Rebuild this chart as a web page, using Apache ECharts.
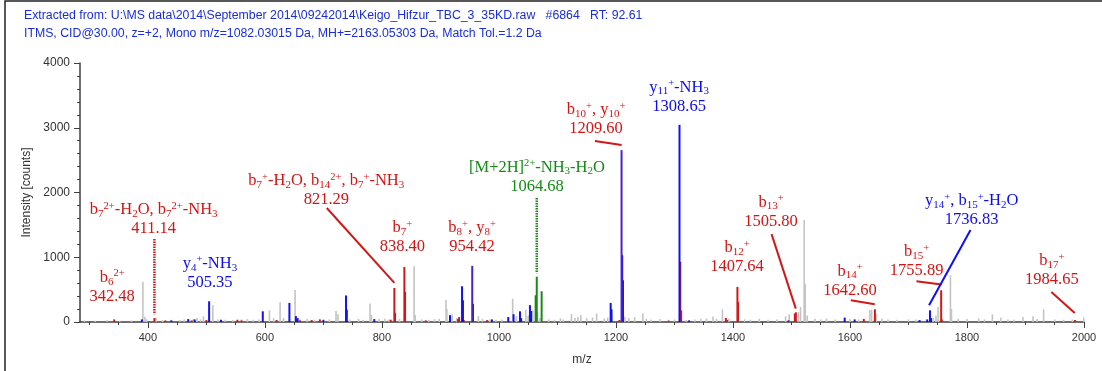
<!DOCTYPE html>
<html>
<head>
<meta charset="utf-8">
<script src="https://cdn.jsdelivr.net/npm/echarts@6/dist/echarts.min.js"></script>
<style>
  html, body { margin: 0; padding: 0; background: #fff; }
  #chart { width: 1102px; height: 371px; }
</style>
</head>
<body>
<div id="chart"></div>
<script>
// peaks: [m/z, intensity]
const grayPeaks = [
  [292, 25], [310, 20], [330, 30], [352, 20], [372, 25], [391.5, 620], [395, 80], [398, 40],
  [414, 65], [425, 30], [440, 35], [455, 30], [462, 40], [470, 35], [478, 45], [484, 60],
  [490, 40], [495, 88], [511, 258], [520, 40], [532, 35], [545, 30], [560, 40], [570, 45],
  [580, 35], [590, 40], [607.8, 180], [615, 60], [626, 305], [632, 60], [651.6, 495], [660, 40],
  [672, 45], [685, 35], [700, 45], [710, 40], [721.6, 170], [725, 120], [745, 40], [760, 50],
  [768, 35], [779.7, 285], [782, 110], [795, 45], [805, 50], [812, 40], [830, 45], [855, 862],
  [857, 110], [868, 40], [880, 35], [890, 45], [898, 50], [909.6, 345], [911, 200], [920, 120],
  [928, 60], [965, 90], [972, 45], [985, 40], [995, 35], [1005, 40], [1023.5, 360], [1030, 90],
  [1046, 190], [1050, 100], [1058, 180], [1066, 150], [1070, 60], [1085, 40], [1095, 35],
  [1105, 60], [1110, 40], [1124, 120], [1130, 60], [1135, 80], [1140, 110], [1150, 60],
  [1160, 70], [1167, 130], [1180, 55], [1186, 70], [1215, 80], [1222, 60], [1232, 75],
  [1246, 130], [1252, 50], [1260, 40], [1275, 45], [1290, 35], [1300, 40], [1320, 30],
  [1335, 40], [1345, 50], [1355, 55], [1366, 85], [1372, 50], [1382, 196], [1393, 50],
  [1420, 40], [1430, 35], [1445, 50], [1460, 35], [1475, 40], [1490, 90], [1496, 120],
  [1512, 150], [1515.5, 232], [1521.7, 1575], [1523.5, 590], [1527, 100], [1540, 50],
  [1550, 40], [1560, 55], [1575, 40], [1600, 45], [1615, 40], [1634, 180], [1637, 190],
  [1645, 119], [1655, 50], [1665, 40], [1680, 35], [1700, 40], [1713, 40], [1742, 60],
  [1747, 100], [1750.6, 232], [1771.7, 722], [1773.5, 200], [1785, 50], [1800, 45],
  [1820, 55], [1830, 40], [1843.4, 119], [1858, 70], [1870, 40], [1880, 35], [1895.7, 77],
  [1912.8, 88], [1920, 45], [1931, 196], [1950, 40], [1965, 35], [1980, 40], [1999.5, 67]
];
const bluePeaks = [
  [389.8, 40], [440, 25], [469, 45], [480, 40], [504.7, 320], [525, 35], [596.4, 165],
  [641.9, 295], [653, 90], [656, 60], [700, 30], [738.7, 410], [740, 190], [787, 45],
  [916.4, 105], [937, 552], [938.5, 335], [955.6, 280], [988, 40], [1016, 77], [1025, 120],
  [1036, 165], [1038, 60], [1053, 260], [1055, 170], [1191, 295], [1192.5, 195],
  [1210.7, 1032], [1212, 645], [1308.65, 3045], [1325, 25], [1495, 25], [1591, 67],
  [1608, 40], [1719, 30], [1732, 40], [1736.8, 180], [1738.5, 60]
];
const purplePeaks = [[954.42, 867], [1209.6, 2655]];
const redPeaks = [
  [342.48, 40], [411.14, 60], [430, 25], [475, 25], [500, 30], [553, 35], [560, 25], [620, 30],
  [660, 25], [680, 30], [694, 40], [815, 35], [821.29, 525], [822.5, 140], [838.4, 850],
  [839.6, 465], [875, 25], [930, 45], [932, 75], [940, 30], [980, 30], [1206, 30], [1290, 20],
  [1310, 930], [1311.5, 180], [1387.9, 62], [1390, 30], [1407.64, 542], [1408.8, 310],
  [1505.8, 130], [1507.5, 150], [1623.6, 46], [1642.6, 196], [1755.89, 490], [1757, 40],
  [1984.65, 30]
];
const greenPeaks = [[1062.8, 412], [1064.68, 700], [1073, 475]];

const xTicks = [400, 600, 800, 1000, 1200, 1400, 1600, 1800, 2000];
const xMinorTicks = [300, 350, 400, 450, 500, 550, 600, 650, 700, 750, 800, 850, 900, 950,
  1000, 1050, 1100, 1150, 1200, 1250, 1300, 1350, 1400, 1450, 1500, 1550, 1600, 1650, 1700,
  1750, 1800, 1850, 1900, 1950, 2000];

// annotations: ion names (_{} subscript, ^{} superscript), m/z text, colour, label centre [m/z, intensity]
const annoNames = [
  'b_{6}^{2+}', 'b_{7}^{2+}-H_{2}O, b_{7}^{2+}-NH_{3}', 'y_{4}^{+}-NH_{3}',
  'b_{7}^{+}-H_{2}O, b_{14}^{2+}, b_{7}^{+}-NH_{3}', 'b_{7}^{+}', 'b_{8}^{+}, y_{8}^{+}',
  '[M+2H]^{2+}-NH_{3}-H_{2}O', 'b_{10}^{+}, y_{10}^{+}', 'y_{11}^{+}-NH_{3}', 'b_{13}^{+}',
  'b_{12}^{+}', 'b_{14}^{+}', 'b_{15}^{+}', 'y_{14}^{+}, b_{15}^{+}-H_{2}O', 'b_{17}^{+}'
];
const annoMz = ['342.48', '411.14', '505.35', '821.29', '838.40', '954.42', '1064.68', '1209.60',
  '1308.65', '1505.80', '1407.64', '1642.60', '1755.89', '1736.83', '1984.65'];
const annoColor = ['red', 'red', 'blue', 'red', 'red', 'red', 'green', 'red', 'blue', 'red',
  'red', 'red', 'red', 'blue', 'red'];
const annoPos = [
  [339, 537], [410, 1582], [506, 754], [705, 2031], [835, 1303], [954, 1303], [1065, 2240],
  [1166, 3130], [1308, 3478], [1465, 1698], [1407, 994], [1600, 638], [1714, 932],
  [1808, 1721], [1945, 793]
];
// leader lines [x1, y1, x2, y2]
const redLeaders = [
  [705.8, 1760, 821.3, 604], [1164, 2797, 1209.7, 2735], [1466, 1358, 1507.4, 207],
  [1601.4, 336, 1642.4, 274], [1713.6, 630, 1756.3, 579], [1944.2, 464, 1984.2, 139]
];
const blueLeaders = [[1806, 1420, 1735.2, 259]];
const redDotted = [[411.14, 1280, 411.14, 119]];
const greenDotted = [[1064.68, 1915, 1064.68, 754]];

const COLORS = { red: '#d41414', blue: '#0c0cee', green: '#138a13' };

function toRich(s) {
  let out = '';
  const re = /_\{([^}]*)\}|\^\{([^}]*)\}|([^_^]+)/g;
  let m;
  while ((m = re.exec(s))) {
    if (m[1] !== undefined) out += '{sub|' + m[1] + '}';
    else if (m[2] !== undefined) out += '{sup|' + m[2] + '}';
    else out += '{n|' + m[3] + '}';
  }
  return out;
}

function peakSeries(data, color, width, z) {
  return {
    type: 'custom',
    data: data,
    z: z,
    encode: { x: 0, y: 1 },
    renderItem: function (params, api) {
      const top = api.coord([api.value(0), api.value(1)]);
      const base = api.coord([api.value(0), 0]);
      return {
        type: 'line',
        shape: { x1: top[0], y1: top[1], x2: base[0], y2: base[1] },
        style: { stroke: color, lineWidth: width }
      };
    }
  };
}

function leaderSeries(data, color, dash) {
  return {
    type: 'custom',
    data: data,
    z: 6,
    encode: { x: [0, 2], y: [1, 3] },
    renderItem: function (params, api) {
      const a = api.coord([api.value(0), api.value(1)]);
      const b = api.coord([api.value(2), api.value(3)]);
      return {
        type: 'line',
        shape: { x1: a[0], y1: a[1], x2: b[0], y2: b[1] },
        style: { stroke: color, lineWidth: dash ? 2.5 : 2, lineDash: dash ? [1.5, 1] : null }
      };
    }
  };
}

const labelData = annoPos.map(function (p, i) {
  return {
    value: p,
    label: {
      color: COLORS[annoColor[i]],
      formatter: toRich(annoNames[i]) + '\n{n|' + annoMz[i] + '}'
    }
  };
});

const chart = echarts.init(document.getElementById('chart'));
const axisColor = '#404040';
const plain = function (v) { return String(v); };

chart.setOption({
  animation: false,
  backgroundColor: '#fff',
  grid: { left: 80, right: 18, top: 63, bottom: 49 },
  graphic: [
    { type: 'rect', shape: { x: 5, y: 1, width: 1200, height: 500 }, style: { fill: 'none', stroke: '#222', lineWidth: 1.5 } },
    { type: 'text', left: 24, top: 10, style: { text: 'Extracted from: U:\\MS data\\2014\\September 2014\\09242014\\Keigo_Hifzur_TBC_3_35KD.raw   #6864   RT: 92.61', fill: '#1a2ed8', font: '12.3px "Liberation Sans", Arial, sans-serif' } },
    { type: 'text', left: 24, top: 28, style: { text: 'ITMS, CID@30.00, z=+2, Mono m/z=1082.03015 Da, MH+=2163.05303 Da, Match Tol.=1.2 Da', fill: '#1a2ed8', font: '12.3px "Liberation Sans", Arial, sans-serif' } }
  ],
  xAxis: [{
    type: 'value',
    min: 284,
    max: 2000,
    name: 'm/z',
    nameLocation: 'middle',
    nameGap: 32,
    nameTextStyle: { fontFamily: 'Liberation Sans', fontSize: 12, color: '#333' },
    axisLine: { lineStyle: { color: axisColor, width: 1.5 } },
    axisTick: { customValues: xTicks, length: 6, lineStyle: { color: axisColor } },
    axisLabel: { customValues: xTicks, formatter: plain, fontFamily: 'Liberation Sans', fontSize: 11, color: '#333', margin: 10 },
    splitLine: { show: false }
  }, {
    type: 'value',
    min: 284,
    max: 2000,
    position: 'bottom',
    axisLine: { show: false },
    axisTick: { customValues: xMinorTicks, length: 3, lineStyle: { color: axisColor } },
    axisLabel: { show: false },
    splitLine: { show: false }
  }],
  yAxis: {
    type: 'value',
    min: 0,
    max: 4000,
    interval: 1000,
    name: 'Intensity [counts]',
    nameLocation: 'middle',
    nameGap: 44,
    nameTextStyle: { fontFamily: 'Liberation Sans', fontSize: 12, color: '#333' },
    axisLine: { show: true, lineStyle: { color: axisColor, width: 1.5 } },
    axisTick: { show: true, length: 6, lineStyle: { color: axisColor } },
    minorTick: { show: true, splitNumber: 5, length: 3, lineStyle: { color: axisColor } },
    axisLabel: { formatter: plain, fontFamily: 'Liberation Sans', fontSize: 12, color: '#333', margin: 10 },
    splitLine: { show: false }
  },
  series: [
    peakSeries(grayPeaks, '#c4c4c4', 1.6, 2),
    peakSeries(redPeaks, '#d01818', 2, 3),
    peakSeries(bluePeaks, '#1010f0', 2, 3),
    peakSeries(purplePeaks, '#4a22cc', 2, 3),
    peakSeries(greenPeaks, '#1a8a1a', 2, 3),
    leaderSeries(redLeaders, '#d01818', false),
    leaderSeries(blueLeaders, '#1010f0', false),
    leaderSeries(redDotted, '#d01818', true),
    leaderSeries(greenDotted, '#1a8a1a', true),
    {
      type: 'scatter',
      z: 8,
      symbolSize: 0,
      silent: true,
      itemStyle: { opacity: 1 },
      data: labelData,
      label: {
        show: true,
        position: 'inside',
        align: 'center',
        verticalAlign: 'middle',
        rich: {
          n: { fontFamily: 'Liberation Serif', fontSize: 16.5, lineHeight: 19 },
          sub: { fontFamily: 'Liberation Serif', fontSize: 11, lineHeight: 7, verticalAlign: 'bottom' },
          sup: { fontFamily: 'Liberation Serif', fontSize: 10.5, lineHeight: 9, verticalAlign: 'top' }
        }
      }
    }
  ]
});
</script>
</body>
</html>
